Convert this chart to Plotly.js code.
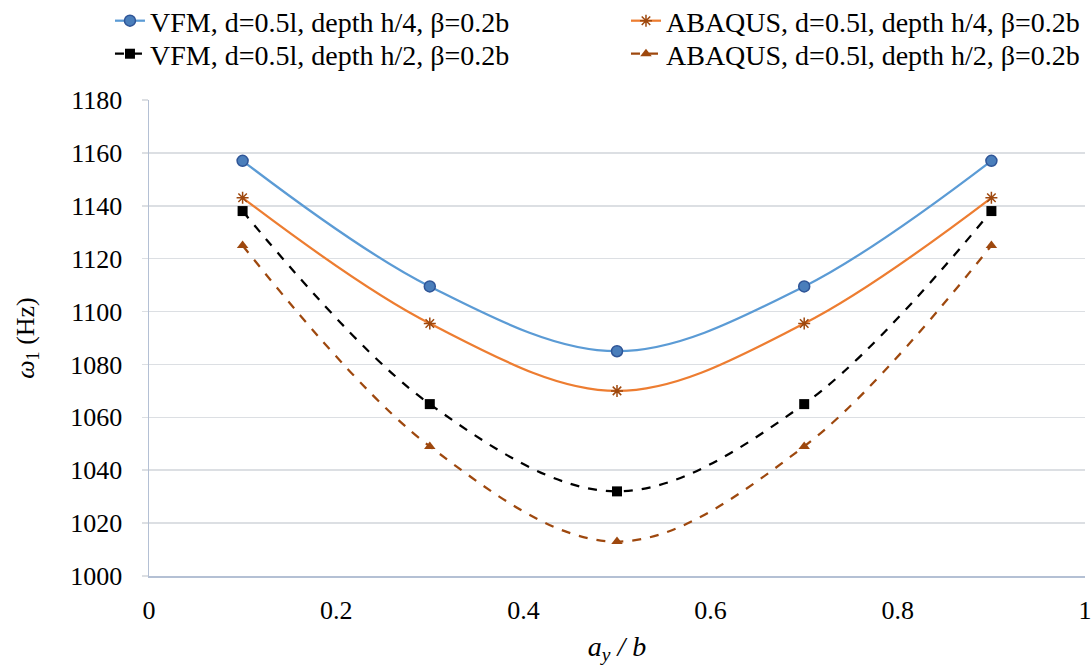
<!DOCTYPE html>
<html>
<head>
<meta charset="utf-8">
<script src="https://cdn.plot.ly/plotly-3.0.1.min.js"></script>
<style>html,body{margin:0;padding:0;background:#fff;}#chart{width:1092px;height:666px;}</style>
</head>
<body>
<div id="chart"></div>
<script>
const xVals = [0.1, 0.3, 0.5, 0.7, 0.9];
const vfmH4 = [1157, 1109.5, 1085, 1109.5, 1157];
const abaqusH4 = [1143, 1095.5, 1070, 1095.5, 1143];
const vfmH2 = [1138, 1065, 1032, 1065, 1138];
const abaqusH2 = [1125, 1049, 1013, 1049, 1125];
const names = [
  'VFM, d=0.5l, depth h/4, β=0.2b',
  'ABAQUS, d=0.5l, depth h/4, β=0.2b',
  'VFM, d=0.5l, depth h/2, β=0.2b',
  'ABAQUS, d=0.5l, depth h/2, β=0.2b'
];

const traces = [
  {x: xVals, y: vfmH4, name: names[0], mode: 'lines+markers', legend: 'legend',
   line: {color: '#5b9bd5', width: 2.25, shape: 'spline', smoothing: 1},
   marker: {symbol: 'circle', size: 11, color: '#4a7ebb', line: {color: '#2f5597', width: 1.5}}},
  {x: xVals, y: abaqusH4, name: names[1], mode: 'lines+markers', legend: 'legend2',
   line: {color: '#ed7d31', width: 2.25, shape: 'spline', smoothing: 1},
   marker: {symbol: 'asterisk-open', size: 10, color: '#9e480e', line: {color: '#9e480e', width: 1.5}}},
  {x: xVals, y: vfmH2, name: names[2], mode: 'lines+markers', legend: 'legend3',
   line: {color: '#000000', width: 2.25, dash: 'dash', shape: 'spline', smoothing: 1},
   marker: {symbol: 'square', size: 10, color: '#000000'}},
  {x: xVals, y: abaqusH2, name: names[3], mode: 'lines+markers', legend: 'legend4',
   line: {color: '#9e480e', width: 2.25, dash: 'dash', shape: 'spline', smoothing: 1},
   marker: {symbol: 'triangle-up', size: 10, color: '#9e480e'}}
];

const fam = 'Liberation Serif, Times New Roman, serif';
const legFont = {family: fam, size: 28, color: '#000'};
function leg(x, y) {
  return {x: x, y: y, xanchor: 'left', yanchor: 'middle',
          orientation: 'v', font: legFont, bgcolor: 'rgba(0,0,0,0)', borderwidth: 0};
}

const layout = {
  width: 1092, height: 666,
  paper_bgcolor: '#fff', plot_bgcolor: '#fff',
  font: {family: fam, color: '#000', size: 26},
  margin: {l: 149, r: 7, t: 100, b: 90, autoexpand: false},
  showlegend: true,
  legend: leg(-0.0417, 1.166),
  legend2: leg(0.5096, 1.166),
  legend3: leg(-0.0417, 1.0966),
  legend4: leg(0.5096, 1.0966),
  xaxis: {
    range: [0, 1], dtick: 0.2, showgrid: false, zeroline: false,
    showline: true, linecolor: '#b4c0d4', linewidth: 1.5,
    ticks: '', tickfont: {size: 26}, ticklabelstandoff: 10,
    title: {text: '<i>a</i><sub><i>y</i></sub><i> / b</i>', font: {size: 28}, standoff: 12}
  },
  yaxis: {
    range: [1000, 1180], dtick: 20, showgrid: true, gridcolor: '#dcdfe3', gridwidth: 1.5,
    zeroline: false, showline: true, linecolor: '#b4c0d4', linewidth: 1.5,
    ticks: 'outside', ticklen: 6, tickcolor: '#dcdfe3', tickwidth: 1.5,
    tickfont: {size: 26}, ticklabelstandoff: 14,
    title: {text: '<i>ω</i><sub>1</sub> (Hz)', font: {size: 26}, standoff: 28}
  }
};

Plotly.newPlot('chart', traces, layout, {displayModeBar: false, staticPlot: true});
</script>
</body>
</html>
